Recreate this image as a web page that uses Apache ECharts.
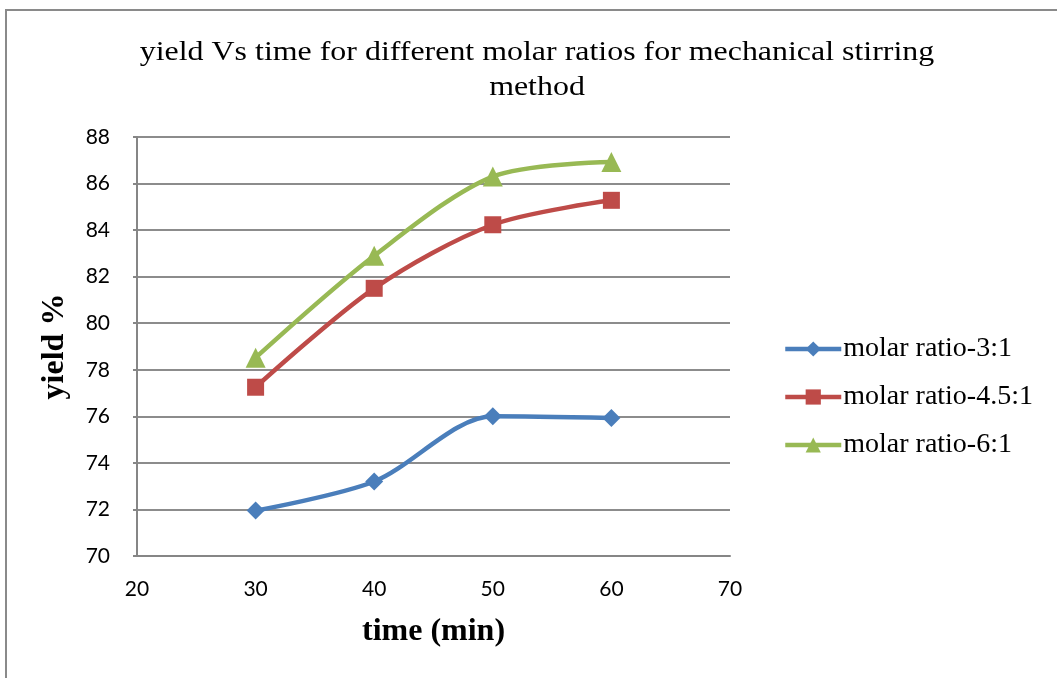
<!DOCTYPE html>
<html>
<head>
<meta charset="utf-8">
<script src="https://cdn.jsdelivr.net/npm/echarts@6/dist/echarts.min.js"></script>
<style>
  html, body { margin: 0; padding: 0; background: #ffffff; }
  #chart { width: 1057px; height: 678px; }
</style>
</head>
<body>
<div id="chart"></div>
<script>
// Reaction time (min) and yield (%) for each molar ratio
const times = [30, 40, 50, 60];
const ratio3 = [71.95, 73.2, 76.0, 75.93];
const ratio45 = [77.25, 81.5, 84.23, 85.28];
const ratio6 = [78.52, 82.9, 86.3, 86.93];
const seriesNames = ['molar ratio-3:1', 'molar ratio-4.5:1', 'molar ratio-6:1'];
const titleLines = ['yield Vs time for different molar ratios for mechanical stirring', 'method'];
const yTicks = { min: 70, max: 88, step: 2 };
const xTicks = { min: 20, max: 70, step: 10 };

const colors = ['#4A7EBB', '#BE4B48', '#98B954'];
const symbols = ['diamond', 'rect', 'triangle'];
const symbolSizes = [18, 17, 20];
const serif = '"Liberation Serif", "Times New Roman", serif';
const sans = 'Lato, "Open Sans", sans-serif';

const chart = echarts.init(document.getElementById('chart'));

function pairs(values) {
  return times.map((t, i) => [t, values[i]]);
}

const valueSets = [ratio3, ratio45, ratio6];

chart.setOption({
  animation: false,
  backgroundColor: '#ffffff',
  graphic: [
    {
      // outer chart frame
      type: 'rect',
      shape: { x: 6, y: 10, width: 1060, height: 680 },
      style: { fill: 'none', stroke: '#8a8a8a', lineWidth: 2 },
      silent: true
    },
    {
      // two-line chart title, set slightly wide
      type: 'text',
      x: 537,
      y: 70,
      scaleX: 1.14,
      style: {
        text: titleLines.join('\n'),
        font: '28px ' + serif,
        fill: '#000000',
        align: 'center',
        verticalAlign: 'middle',
        lineHeight: 35
      },
      silent: true
    }
  ],
  legend: {
    orient: 'vertical',
    left: 783,
    top: 335,
    padding: 0,
    itemWidth: 56,
    itemHeight: 19,
    itemGap: 20,
    lineStyle: { width: 4.5 },
    textStyle: { fontFamily: serif, fontSize: 28, color: '#000000', padding: [0, 0, 0, -3] },
    data: seriesNames
  },
  grid: { left: 137, right: 327, top: 137, bottom: 122 },
  xAxis: {
    type: 'value',
    min: xTicks.min,
    max: xTicks.max,
    interval: xTicks.step,
    name: 'time (min)',
    nameLocation: 'middle',
    nameGap: 60,
    nameTextStyle: { fontFamily: serif, fontSize: 32, fontWeight: 'bold', color: '#000000' },
    axisLine: { show: true, lineStyle: { color: '#868686', width: 2 } },
    axisTick: { show: false },
    axisLabel: { fontFamily: sans, fontSize: 21, color: '#000000', margin: 23 },
    splitLine: { show: false }
  },
  yAxis: {
    type: 'value',
    min: yTicks.min,
    max: yTicks.max,
    interval: yTicks.step,
    name: 'yield %',
    nameLocation: 'middle',
    nameGap: 66,
    nameTextStyle: { fontFamily: serif, fontSize: 32, fontWeight: 'bold', color: '#000000' },
    axisLine: { show: true, lineStyle: { color: '#868686', width: 2 } },
    axisTick: { show: true, inside: false, length: 4, lineStyle: { color: '#868686', width: 2 } },
    axisLabel: { fontFamily: sans, fontSize: 21, color: '#000000', margin: 27 },
    splitLine: { show: true, lineStyle: { color: '#8c8c8c', width: 2 } }
  },
  series: seriesNames.map((name, i) => ({
    name: name,
    type: 'line',
    data: pairs(valueSets[i]),
    smooth: 0.3,
    symbol: symbols[i],
    symbolSize: symbolSizes[i],
    color: colors[i],
    lineStyle: { width: 4.5, color: colors[i] },
    itemStyle: { color: colors[i] },
    z: 3 + i
  }))
});
</script>
</body>
</html>
